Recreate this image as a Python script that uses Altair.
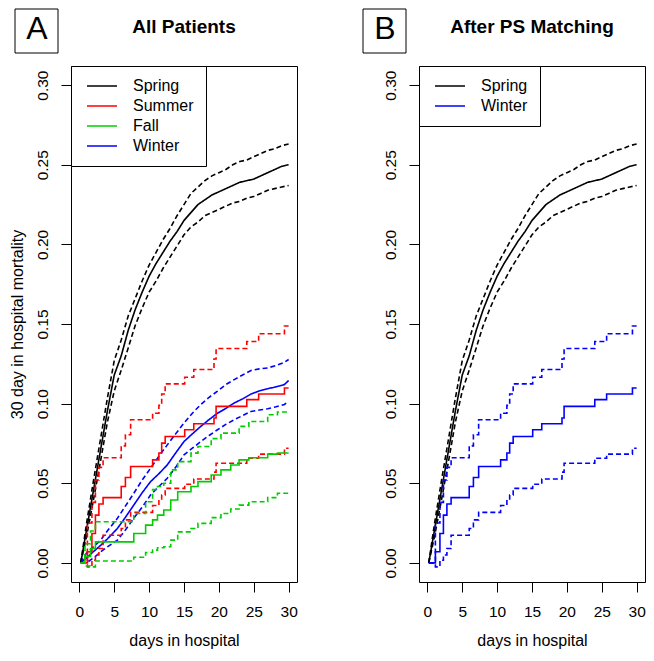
import altair as alt
import pandas as pd

FONT = "Liberation Sans"

# ---------------- Panel A: All Patients ----------------
# Spring (many events -> nearly smooth curve)
spring_t = [0.2, 1, 2, 3, 4, 5, 6, 7, 8, 9, 10, 11, 12, 13, 14, 15, 16, 17, 18, 19,
            20, 21, 22, 23, 24, 25, 26, 27, 28, 29, 30]
spring_est = [0, 0.020, 0.045, 0.070, 0.095, 0.118, 0.130, 0.146, 0.159, 0.170, 0.180,
              0.188, 0.195, 0.202, 0.208, 0.215, 0.220, 0.225, 0.228, 0.231, 0.233,
              0.235, 0.237, 0.239, 0.240, 0.241, 0.243, 0.245, 0.247, 0.249, 0.250]
spring_upper = [0, 0.024, 0.051, 0.077, 0.103, 0.127, 0.140, 0.155, 0.166, 0.177, 0.187,
                0.195, 0.203, 0.210, 0.218, 0.225, 0.232, 0.236, 0.240, 0.243, 0.245,
                0.247, 0.250, 0.252, 0.253, 0.255, 0.257, 0.259, 0.260, 0.262, 0.263]
spring_lower = [0, 0.016, 0.039, 0.063, 0.088, 0.108, 0.121, 0.135, 0.149, 0.160, 0.170,
                0.177, 0.185, 0.192, 0.199, 0.206, 0.211, 0.214, 0.218, 0.220, 0.222,
                0.224, 0.226, 0.227, 0.229, 0.230, 0.232, 0.234, 0.235, 0.236, 0.237]

# Summer (step function)
summer_t = [0.2, 1.15, 1.8, 2.3, 2.8, 3.4, 6.0, 6.6, 7.35, 10.5, 11.4, 11.8, 12.3,
            15.1, 16.4, 19.3, 19.6, 24.0, 25.7, 29.4, 30]
summer_est = [0, 0.007, 0.0185, 0.030, 0.037, 0.041, 0.048, 0.0536, 0.0605, 0.0647,
              0.069, 0.0752, 0.0794, 0.0836, 0.0874, 0.091, 0.0983, 0.1025, 0.106,
              0.1098, 0.1098]
summer_upper = [0, 0.025, 0.038, 0.052, 0.060, 0.066, 0.0735, 0.0805, 0.0899, 0.094,
                0.099, 0.106, 0.1124, 0.1166, 0.1214, 0.128, 0.1346, 0.139, 0.1439,
                0.1487, 0.1487]
summer_lower = [0, -0.0025, 0.0017, 0.005, 0.009, 0.0174, 0.0216, 0.027, 0.0317, 0.036,
                0.039, 0.0426, 0.0468, 0.0494, 0.0527, 0.057, 0.0626, 0.0657, 0.0683,
                0.072, 0.072]

# Fall (step function)
fall_t = [0.2, 0.8, 1.6, 2.3, 7.8, 9.5, 10.5, 11.2, 12.1, 13.1, 14.1, 16.0, 17.0, 18.9,
          20.3, 21.7, 22.9, 24.3, 27.0, 28.4, 30]
fall_est = [0, 0.004, 0.009, 0.0132, 0.0185, 0.0237, 0.027, 0.030, 0.0332, 0.0395,
            0.0447, 0.048, 0.051, 0.0552, 0.0584, 0.0615, 0.0647, 0.066, 0.0683, 0.069,
            0.069]
fall_upper = [0, 0.012, 0.020, 0.0258, 0.031, 0.0384, 0.046, 0.048, 0.050, 0.0584,
              0.0636, 0.0689, 0.0731, 0.078, 0.0815, 0.0815, 0.0857, 0.0888, 0.093,
              0.0947, 0.0947]
fall_lower = [0, -0.002, -0.0025, 0.0012, 0.0035, 0.0065, 0.008, 0.0095, 0.0101, 0.0143,
              0.0195, 0.0216, 0.0248, 0.0284, 0.031, 0.0338, 0.0363, 0.0384, 0.041,
              0.0437, 0.0437]

# Winter (many events -> nearly smooth curve)
winter_t = [0.2, 1, 2, 3.05, 4, 5.45, 6.5, 7.8, 9, 10.2, 11.4, 12.6, 13.8, 15.0, 16.2,
            17.4, 18.6, 19.8, 21, 22.2, 23.4, 24.6, 25.8, 27.0, 28.2, 29.4, 30]
winter_est = [0, 0.003, 0.007, 0.011, 0.015, 0.0216, 0.028, 0.0363, 0.044, 0.051, 0.056,
              0.0615, 0.069, 0.0762, 0.081, 0.0857, 0.090, 0.094, 0.097, 0.1004, 0.103,
              0.106, 0.108, 0.1094, 0.1105, 0.112, 0.1145]
winter_upper = [0, 0.006, 0.010, 0.0143, 0.020, 0.028, 0.035, 0.0437, 0.052, 0.0594,
                0.067, 0.0741, 0.081, 0.0878, 0.094, 0.0994, 0.104, 0.1078, 0.112,
                0.1151, 0.118, 0.1208, 0.1218, 0.1224, 0.124, 0.126, 0.1277]
winter_lower = [0, 0.000, 0.003, 0.0069, 0.010, 0.0143, 0.020, 0.028, 0.035, 0.0426,
                0.048, 0.0531, 0.060, 0.0678, 0.072, 0.0762, 0.080, 0.0836, 0.087,
                0.0899, 0.0925, 0.0951, 0.096, 0.0968, 0.098, 0.0995, 0.1014]

# ---------------- Panel B: After PS Matching ----------------
# (the matched Winter curve is drawn identical to the Summer curve of panel A)
psm_winter_t = summer_t
psm_winter_est = summer_est
psm_winter_upper = summer_upper
psm_winter_lower = summer_lower

seasons_a = ["Spring", "Summer", "Fall", "Winter"]
colors_a = ["#000000", "#FF0000", "#00CD00", "#0000FF"]
seasons_b = ["Spring", "Winter"]
colors_b = ["#000000", "#0000FF"]

x_ticks = [0, 5, 10, 15, 20, 25, 30]
y_ticks = [0.0, 0.05, 0.10, 0.15, 0.20, 0.25, 0.30]


def curve_df(season, t, est, up, lo):
    rows = []
    for kind, vals in (("est", est), ("upper", up), ("lower", lo)):
        for ti, v in zip(t, vals):
            rows.append({"season": season, "kind": kind, "day": ti, "risk": v})
    return pd.DataFrame(rows)


x_scale = alt.Scale(domain=[-1.2, 31.2], nice=False, zero=False)
y_scale = alt.Scale(domain=[-0.012, 0.312], nice=False, zero=False)


def make_panel(smooth_df, step_df, domain, colors, letter, title, ytitle):
    x_axis = alt.Axis(values=x_ticks, format="d", labelAngle=0, tickSize=10,
                      labelPadding=12, domain=False, grid=False,
                      title="days in hospital", titlePadding=13, titleFontSize=16,
                      titleFontWeight="normal", labelFontSize=15.5)
    y_axis = alt.Axis(values=y_ticks, format=".2f", labelAngle=270, labelAlign="center",
                      labelBaseline="bottom", tickSize=10, labelPadding=11,
                      domain=False, grid=False, title=ytitle, titlePadding=10,
                      titleFontSize=16, titleFontWeight="normal", labelFontSize=15.5)
    legend = alt.Legend(orient="top-left", offset=0, title=None, strokeColor="black",
                        fillColor="white", padding=12, symbolOffset=3, labelOffset=15,
                        symbolType="stroke", symbolSize=900, symbolStrokeWidth=1.5,
                        clipHeight=16, labelFontSize=16, rowPadding=4, labelFont=FONT,
                        labelColor="black")
    enc = dict(
        x=alt.X("day:Q", scale=x_scale, axis=x_axis),
        y=alt.Y("risk:Q", scale=y_scale, axis=y_axis),
        color=alt.Color("season:N", scale=alt.Scale(domain=domain, range=colors),
                        legend=legend),
        strokeDash=alt.StrokeDash("kind:N",
                                  scale=alt.Scale(domain=["est", "upper", "lower"],
                                                  range=[[1, 0], [5, 3], [5, 3]]),
                                  legend=None),
        detail="kind:N",
    )
    layers = []
    if smooth_df is not None:
        layers.append(alt.Chart(smooth_df).mark_line(strokeWidth=1.6).encode(**enc))
    if step_df is not None:
        layers.append(alt.Chart(step_df).mark_line(strokeWidth=1.6,
                                                   interpolate="step-after").encode(**enc))
    lab = pd.DataFrame({"letter": [letter], "title": [title]})
    box = alt.Chart(lab).mark_rect(fill="white", stroke="black", strokeWidth=1).encode(
        x=alt.value(-56), x2=alt.value(-13), y=alt.value(-57), y2=alt.value(-13))
    letter_txt = alt.Chart(lab).mark_text(fontSize=32, font=FONT, color="black",
                                          align="center", baseline="middle").encode(
        x=alt.value(-34), y=alt.value(-37), text="letter:N")
    title_txt = alt.Chart(lab).mark_text(fontSize=19, font=FONT, fontWeight="bold",
                                         color="black", align="center",
                                         baseline="middle").encode(
        x=alt.value(113), y=alt.value(-39), text="title:N")
    return alt.layer(*layers, box, letter_txt, title_txt).properties(width=226, height=516)


smooth_a = pd.concat([
    curve_df("Spring", spring_t, spring_est, spring_upper, spring_lower),
    curve_df("Winter", winter_t, winter_est, winter_upper, winter_lower),
])
step_a = pd.concat([
    curve_df("Summer", summer_t, summer_est, summer_upper, summer_lower),
    curve_df("Fall", fall_t, fall_est, fall_upper, fall_lower),
])
smooth_b = curve_df("Spring", spring_t, spring_est, spring_upper, spring_lower)
step_b = curve_df("Winter", psm_winter_t, psm_winter_est, psm_winter_upper,
                  psm_winter_lower)

panel_a = make_panel(smooth_a, step_a, seasons_a, colors_a, "A", "All Patients",
                     "30 day in hospital mortality")
panel_b = make_panel(smooth_b, step_b, seasons_b, colors_b, "B", "After PS Matching", "")

chart = alt.hconcat(panel_a, panel_b, spacing=122, bounds="flush").resolve_scale(
    color="independent", strokeDash="independent").resolve_legend(
    color="independent").properties(
    padding={"left": 0, "top": 0, "right": 0, "bottom": 0}
).configure_view(stroke="black", strokeWidth=1).configure_axis(
    labelFont=FONT, titleFont=FONT, labelColor="black", titleColor="black",
    tickColor="black", tickWidth=1)

chart.save("out.html", embed_options={"renderer": "svg", "actions": False})
